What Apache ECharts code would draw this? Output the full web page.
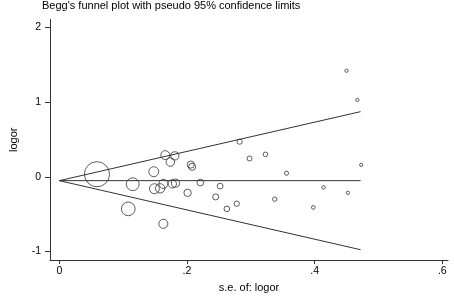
<!DOCTYPE html>
<html>
<head>
<meta charset="utf-8">
<script src="https://cdn.jsdelivr.net/npm/echarts@6/dist/echarts.min.js"></script>
<style>
html,body{margin:0;padding:0;background:#fff;}
#c{width:454px;height:298px;}
</style>
</head>
<body>
<div id="c"></div>
<script>
// Study standard errors and log odds ratios
var se =    [0.059, 0.166, 0.181, 0.174, 0.148, 0.206, 0.208, 0.115, 0.149, 0.158, 0.163, 0.177, 0.182, 0.221, 0.252, 0.201, 0.245, 0.108, 0.163, 0.2825, 0.298, 0.323, 0.356, 0.2625, 0.278, 0.3375, 0.414, 0.452, 0.398, 0.450, 0.467, 0.473];
var logor = [0.034, 0.29, 0.28, 0.197, 0.068, 0.163, 0.133, -0.10, -0.16, -0.155, -0.095, -0.095, -0.086, -0.078, -0.125, -0.215, -0.27, -0.43, -0.63, 0.47, 0.245, 0.30, 0.047, -0.43, -0.36, -0.30, -0.142, -0.215, -0.41, 1.42, 1.03, 0.16];
// Funnel lines (pooled estimate and pseudo 95% limits)
var funnelSe    = [0, 0.472];
var pooledLine  = [-0.052, -0.052];
var upperLimit  = [-0.052, 0.872];
var lowerLimit  = [-0.052, -0.977];
// Tick labels
var xTicks = [0, 0.2, 0.4, 0.6];
var xTickLabels = ['0', '.2', '.4', '.6'];
var yTicks = [-1, 0, 1, 2];
var yTickLabels = ['-1', '0', '1', '2'];

var points = se.map(function (s, i) { return [s, logor[i]]; });
function pairs(ys) { return funnelSe.map(function (s, i) { return [s, ys[i]]; }); }

var ink = '#333';
var font = 'Liberation Sans, Arial, sans-serif';
var chart = echarts.init(document.getElementById('c'), null, {renderer: 'canvas'});
chart.setOption({
  animation: false,
  backgroundColor: '#fff',
  title: {
    text: "Begg's funnel plot with pseudo 95% confidence limits",
    left: 40, top: 0, padding: [0, 0, 0, 2],
    textStyle: {fontFamily: font, fontSize: 11, fontWeight: 'normal', color: '#000'}
  },
  grid: {left: 43, right: 6, top: 19.5, bottom: 29.5, containLabel: false},
  xAxis: {
    type: 'value', min: -0.0146, max: 0.609,
    name: 's.e. of: logor', nameLocation: 'middle', nameGap: 17,
    nameTextStyle: {fontFamily: font, fontSize: 11, color: '#000'},
    axisLine: {show: true, onZero: false, lineStyle: {color: ink, width: 1}},
    axisTick: {show: true, length: 4, customValues: xTicks, lineStyle: {color: ink}},
    axisLabel: {customValues: xTicks, margin: 6, fontFamily: font, fontSize: 10.5, color: '#000',
      formatter: function (v) { var i = xTicks.indexOf(Math.round(v * 10) / 10); return i >= 0 ? xTickLabels[i] : ''; }},
    splitLine: {show: false}
  },
  yAxis: {
    type: 'value', min: -1.116, max: 2.106,
    name: 'logor', nameLocation: 'middle', nameGap: 31, nameRotate: 90,
    nameTextStyle: {fontFamily: font, fontSize: 11, color: '#000'},
    axisLine: {show: true, onZero: false, lineStyle: {color: ink, width: 1}},
    axisTick: {show: true, length: 5, customValues: yTicks, lineStyle: {color: ink}},
    axisLabel: {customValues: yTicks, margin: 9, fontFamily: font, fontSize: 10.5, color: '#000',
      formatter: function (v) { var i = yTicks.indexOf(Math.round(v)); return i >= 0 ? yTickLabels[i] : ''; }},
    splitLine: {show: false}
  },
  series: [
    {type: 'line', data: pairs(pooledLine), symbol: 'none', lineStyle: {color: ink, width: 1}, z: 2},
    {type: 'line', data: pairs(upperLimit), symbol: 'none', lineStyle: {color: ink, width: 1}, z: 2},
    {type: 'line', data: pairs(lowerLimit), symbol: 'none', lineStyle: {color: ink, width: 1}, z: 2},
    {
      type: 'scatter', data: points, symbol: 'circle',
      symbolSize: function (d) { return Math.max(3.2, 1.48 / d[0]); },
      itemStyle: {color: 'rgba(0,0,0,0)', borderColor: ink, borderWidth: 1},
      z: 3
    }
  ]
});
</script>
</body>
</html>
